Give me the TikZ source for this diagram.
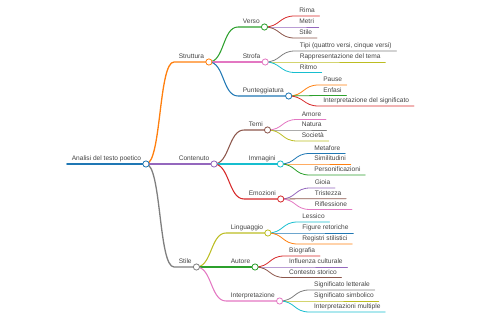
\documentclass[tikz,border=0pt]{standalone}
\usepackage{fontspec}
\setmainfont{Liberation Sans}
\definecolor{cA}{HTML}{1F77B4}
\definecolor{cB}{HTML}{FF7F0E}
\definecolor{cC}{HTML}{2CA02C}
\definecolor{cD}{HTML}{D62728}
\definecolor{cE}{HTML}{9467BD}
\definecolor{cF}{HTML}{8C564B}
\definecolor{cG}{HTML}{E377C2}
\definecolor{cH}{HTML}{7F7F7F}
\definecolor{cI}{HTML}{BCBD22}
\definecolor{cJ}{HTML}{17BECF}
\definecolor{txt}{HTML}{444444}
\tikzset{
  topic/.style={anchor=south west,inner xsep=4.6pt,inner ysep=0pt,text height=5pt,text depth=3pt,
    font=\fontsize{6.6}{7}\selectfont,text=txt},
  knob/.style={circle,draw=#1,fill=white,line width=0.8pt,inner sep=0pt,minimum size=6.2pt},
  depthone/.style={draw=#1,line width=1.3pt,line cap=round},
  depthtwo/.style={draw=#1,line width=1.05pt,line cap=round},
  depththree/.style={draw=#1,line width=0.8pt,line cap=round}
}
\begin{document}
\begin{tikzpicture}[x=1pt,y=-1pt]
  \useasboundingbox (0,0) rectangle (480,320);
  % root
  \node[topic] (root) at (67,164) {Analisi del testo poetico};
  % first level
  \node[topic] (struttura) at (174,62) {Struttura};
  \node[topic] (contenuto) at (174,164) {Contenuto};
  \node[topic] (stile) at (174,267) {Stile};
  % second level
  \node[topic] (verso) at (238,27) {Verso};
  \node[topic] (strofa) at (238,62) {Strofa};
  \node[topic] (punt) at (238,96) {Punteggiatura};
  \node[topic] (temi) at (244,130) {Temi};
  \node[topic] (immagini) at (244,164) {Immagini};
  \node[topic] (emozioni) at (244,199) {Emozioni};
  \node[topic] (linguaggio) at (226,233) {Linguaggio};
  \node[topic] (autore) at (226,267) {Autore};
  \node[topic] (interpr) at (226,301) {Interpretazione};
  % leaves
  \node[topic] (rima) at (294.5,16) {Rima};
  \node[topic] (metri) at (294.5,27) {Metri};
  \node[topic] (stilev) at (294.5,38) {Stile};
  \node[topic] (tipi) at (295,51) {Tipi (quattro versi, cinque versi)};
  \node[topic] (rappr) at (295,62) {Rappresentazione del tema};
  \node[topic] (ritmo) at (295,72.5) {Ritmo};
  \node[topic] (pause) at (318.5,85) {Pause};
  \node[topic] (enfasi) at (318.5,95.5) {Enfasi};
  \node[topic] (intsig) at (318.5,106) {Interpretazione del significato};
  \node[topic] (amore) at (297,119.5) {Amore};
  \node[topic] (natura) at (297,130) {Natura};
  \node[topic] (societa) at (297,141) {Società};
  \node[topic] (metafore) at (309.5,153.5) {Metafore};
  \node[topic] (simil) at (309.5,164) {Similitudini};
  \node[topic] (person) at (309.5,175) {Personificazioni};
  \node[topic] (gioia) at (310,188) {Gioia};
  \node[topic] (tristezza) at (310,198.7) {Tristezza};
  \node[topic] (rifl) at (310,209.5) {Riflessione};
  \node[topic] (lessico) at (297.5,222) {Lessico};
  \node[topic] (figure) at (297.5,233) {Figure retoriche};
  \node[topic] (registri) at (297.5,244) {Registri stilistici};
  \node[topic] (biografia) at (284.3,256) {Biografia};
  \node[topic] (influenza) at (284.3,267) {Influenza culturale};
  \node[topic] (contesto) at (284.3,277.5) {Contesto storico};
  \node[topic] (letterale) at (309.3,290) {Significato letterale};
  \node[topic] (simbolico) at (309.3,301) {Significato simbolico};
  \node[topic] (multiple) at (309.3,312) {Interpretazioni multiple};

  \draw[cA,line width=1.6pt,line cap=round] (root.south west) -- (root.south east);
  \draw[depthone=cB] (root.south east) .. controls +(15.5,0) and +(-15.5,0) .. (struttura.south west) -- (struttura.south east);
  \draw[depthone=cE] (root.south east) .. controls +(15.5,0) and +(-15.5,0) .. (contenuto.south west) -- (contenuto.south east);
  \draw[depthone=cH] (root.south east) .. controls +(15.5,0) and +(-15.5,0) .. (stile.south west) -- (stile.south east);

  \draw[depthtwo=cC] (struttura.south east) .. controls +(15.5,0) and +(-15.5,0) .. (verso.south west) -- (verso.south east);
  \draw[depthtwo=cG] (struttura.south east) .. controls +(15.5,0) and +(-15.5,0) .. (strofa.south west) -- (strofa.south east);
  \draw[depthtwo=cA] (struttura.south east) .. controls +(15.5,0) and +(-15.5,0) .. (punt.south west) -- (punt.south east);
  \draw[depthtwo=cF] (contenuto.south east) .. controls +(15.5,0) and +(-15.5,0) .. (temi.south west) -- (temi.south east);
  \draw[depthtwo=cJ] (contenuto.south east) .. controls +(15.5,0) and +(-15.5,0) .. (immagini.south west) -- (immagini.south east);
  \draw[depthtwo=cD] (contenuto.south east) .. controls +(15.5,0) and +(-15.5,0) .. (emozioni.south west) -- (emozioni.south east);
  \draw[depthtwo=cI] (stile.south east) .. controls +(15.5,0) and +(-15.5,0) .. (linguaggio.south west) -- (linguaggio.south east);
  \draw[depthtwo=cC] (stile.south east) .. controls +(15.5,0) and +(-15.5,0) .. (autore.south west) -- (autore.south east);
  \draw[depthtwo=cG] (stile.south east) .. controls +(15.5,0) and +(-15.5,0) .. (interpr.south west) -- (interpr.south east);

  \draw[depththree=cD] (verso.south east) .. controls +(15.5,0) and +(-15.5,0) .. (rima.south west) -- (rima.south east);
  \draw[depththree=cE] (verso.south east) .. controls +(15.5,0) and +(-15.5,0) .. (metri.south west) -- (metri.south east);
  \draw[depththree=cF] (verso.south east) .. controls +(15.5,0) and +(-15.5,0) .. (stilev.south west) -- (stilev.south east);
  \draw[depththree=cH] (strofa.south east) .. controls +(15.5,0) and +(-15.5,0) .. (tipi.south west) -- (tipi.south east);
  \draw[depththree=cI] (strofa.south east) .. controls +(15.5,0) and +(-15.5,0) .. (rappr.south west) -- (rappr.south east);
  \draw[depththree=cJ] (strofa.south east) .. controls +(15.5,0) and +(-15.5,0) .. (ritmo.south west) -- (ritmo.south east);
  \draw[depththree=cB] (punt.south east) .. controls +(15.5,0) and +(-15.5,0) .. (pause.south west) -- (pause.south east);
  \draw[depththree=cC] (punt.south east) .. controls +(15.5,0) and +(-15.5,0) .. (enfasi.south west) -- (enfasi.south east);
  \draw[depththree=cD] (punt.south east) .. controls +(15.5,0) and +(-15.5,0) .. (intsig.south west) -- (intsig.south east);
  \draw[depththree=cG] (temi.south east) .. controls +(15.5,0) and +(-15.5,0) .. (amore.south west) -- (amore.south east);
  \draw[depththree=cH] (temi.south east) .. controls +(15.5,0) and +(-15.5,0) .. (natura.south west) -- (natura.south east);
  \draw[depththree=cI] (temi.south east) .. controls +(15.5,0) and +(-15.5,0) .. (societa.south west) -- (societa.south east);
  \draw[depththree=cA] (immagini.south east) .. controls +(15.5,0) and +(-15.5,0) .. (metafore.south west) -- (metafore.south east);
  \draw[depththree=cB] (immagini.south east) .. controls +(15.5,0) and +(-15.5,0) .. (simil.south west) -- (simil.south east);
  \draw[depththree=cC] (immagini.south east) .. controls +(15.5,0) and +(-15.5,0) .. (person.south west) -- (person.south east);
  \draw[depththree=cE] (emozioni.south east) .. controls +(15.5,0) and +(-15.5,0) .. (gioia.south west) -- (gioia.south east);
  \draw[depththree=cF] (emozioni.south east) .. controls +(15.5,0) and +(-15.5,0) .. (tristezza.south west) -- (tristezza.south east);
  \draw[depththree=cG] (emozioni.south east) .. controls +(15.5,0) and +(-15.5,0) .. (rifl.south west) -- (rifl.south east);
  \draw[depththree=cJ] (linguaggio.south east) .. controls +(15.5,0) and +(-15.5,0) .. (lessico.south west) -- (lessico.south east);
  \draw[depththree=cA] (linguaggio.south east) .. controls +(15.5,0) and +(-15.5,0) .. (figure.south west) -- (figure.south east);
  \draw[depththree=cB] (linguaggio.south east) .. controls +(15.5,0) and +(-15.5,0) .. (registri.south west) -- (registri.south east);
  \draw[depththree=cD] (autore.south east) .. controls +(15.5,0) and +(-15.5,0) .. (biografia.south west) -- (biografia.south east);
  \draw[depththree=cE] (autore.south east) .. controls +(15.5,0) and +(-15.5,0) .. (influenza.south west) -- (influenza.south east);
  \draw[depththree=cF] (autore.south east) .. controls +(15.5,0) and +(-15.5,0) .. (contesto.south west) -- (contesto.south east);
  \draw[depththree=cH] (interpr.south east) .. controls +(15.5,0) and +(-15.5,0) .. (letterale.south west) -- (letterale.south east);
  \draw[depththree=cI] (interpr.south east) .. controls +(15.5,0) and +(-15.5,0) .. (simbolico.south west) -- (simbolico.south east);
  \draw[depththree=cJ] (interpr.south east) .. controls +(15.5,0) and +(-15.5,0) .. (multiple.south west) -- (multiple.south east);

  % knobs on the nodes that have children
  \node[knob=cA] (rootk) at (root.south east) {};
  \node[knob=cB] (strutturak) at (struttura.south east) {};
  \node[knob=cE] (contenutok) at (contenuto.south east) {};
  \node[knob=cH] (stilek) at (stile.south east) {};
  \node[knob=cC] (versok) at (verso.south east) {};
  \node[knob=cG] (strofak) at (strofa.south east) {};
  \node[knob=cA] (puntk) at (punt.south east) {};
  \node[knob=cF] (temik) at (temi.south east) {};
  \node[knob=cJ] (immaginik) at (immagini.south east) {};
  \node[knob=cD] (emozionik) at (emozioni.south east) {};
  \node[knob=cI] (linguaggiok) at (linguaggio.south east) {};
  \node[knob=cC] (autorek) at (autore.south east) {};
  \node[knob=cG] (interprk) at (interpr.south east) {};
\end{tikzpicture}
\end{document}
